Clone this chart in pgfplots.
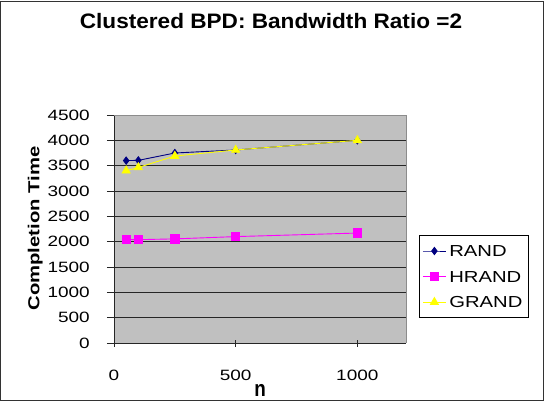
\documentclass[border=0pt]{standalone}
\usepackage{pgfplots}
\pgfplotsset{compat=1.18}
\usepackage{fontspec}
\setmainfont{Liberation Sans}
% slightly widened sans faces for the chart texts
\newfontfamily\tickfont{Liberation Sans}[FakeStretch=1.27]
\newfontfamily\titlefont{Liberation Sans}[FakeStretch=1.08]

\definecolor{plotgray}{HTML}{C0C0C0}
\definecolor{randblue}{HTML}{000080}
\definecolor{hrandpink}{HTML}{FF00FF}
\definecolor{grandyellow}{HTML}{FFFF00}

\begin{document}
\begin{tikzpicture}[x=1bp,y=1bp]
% outer chart frame
\draw[line width=1bp,black!80] (-113,342) rectangle (429.5,-57);
\useasboundingbox (-114,343) rectangle (431,-59);
\begin{axis}[
  at={(0,0)}, anchor=origin,
  scale only axis, width=292bp, height=228bp,
  xmin=0, xmax=1200, ymin=0, ymax=4500,
  xtick={0,500,1000}, ytick={0,500,...,4500},
  axis x line*=bottom, axis y line*=left,
  axis line style={line width=0.9bp,black!85,-},
  axis background/.style={fill=plotgray},
  ymajorgrids, grid style={line width=0.9bp,black!85},
  xtick style={line width=0.9bp,black!85},
  ytick style={line width=0.9bp,black!85},
  ytick align=outside, xtick align=center,
  major tick length=7bp,
  ticklabel style={font=\tickfont\fontsize{15}{17}\selectfont, inner sep=0pt},
  x tick label style={anchor=center, yshift=-29bp},
  y tick label style={anchor=east, xshift=-17bp},
  /pgf/number format/assume math mode=true,
  /pgf/number format/set thousands separator={},
  legend style={at={(axis description cs:1.0445,0.4737)}, anchor=north west,
    draw=black, line width=0.9bp, fill=white,
    font=\tickfont\fontsize{16}{18}\selectfont,
    inner xsep=3bp, inner ysep=4.5bp, row sep=3.5bp,
    nodes={inner xsep=3bp, inner ysep=5.3bp, text height=11.5bp, text depth=0bp}},
  legend cell align=left,
  legend image code/.code={
    \draw[mark repeat=2, mark phase=2] plot coordinates {(0bp,0bp) (11.5bp,0bp) (23bp,0bp)};},
  clip=false,
]
\addplot[color=randblue, line width=0.9bp, mark=diamond*, mark size=3.6bp, mark options={fill=randblue}]
  coordinates {(50,3600) (100,3605) (250,3750) (500,3810) (1000,4000)};
\addlegendentry{RAND}
\addplot[color=hrandpink, line width=0.9bp, mark=square*, mark size=4.2bp, mark options={fill=hrandpink}]
  coordinates {(50,2040) (100,2040) (250,2055) (500,2100) (1000,2170)};
\addlegendentry{HRAND}
\addplot[color=grandyellow, line width=0.9bp, mark=triangle*, mark size=4.6bp, mark options={fill=grandyellow}]
  coordinates {(50,3400) (100,3465) (250,3690) (500,3810) (1000,4000)};
\addlegendentry{GRAND}
\draw[line width=0.9bp, black!45] (rel axis cs:0,1) -- (rel axis cs:1,1) -- (rel axis cs:1,0);
\end{axis}
% chart title and axis titles
\node[anchor=base, inner sep=0pt, font=\titlefont\bfseries\fontsize{21}{24}\selectfont]
  at (157,315) {Clustered BPD: Bandwidth Ratio =2};
\node[rotate=90, anchor=base, inner sep=0pt, font=\tickfont\bfseries\fontsize{16}{18}\selectfont]
  at (-74.5,114.5) {Completion Time};
\node[inner sep=0pt, anchor=base] at (146,-53)
  {\scalebox{1.05}[1.25]{\bfseries\fontsize{18}{20}\selectfont n}};
\end{tikzpicture}
\end{document}
